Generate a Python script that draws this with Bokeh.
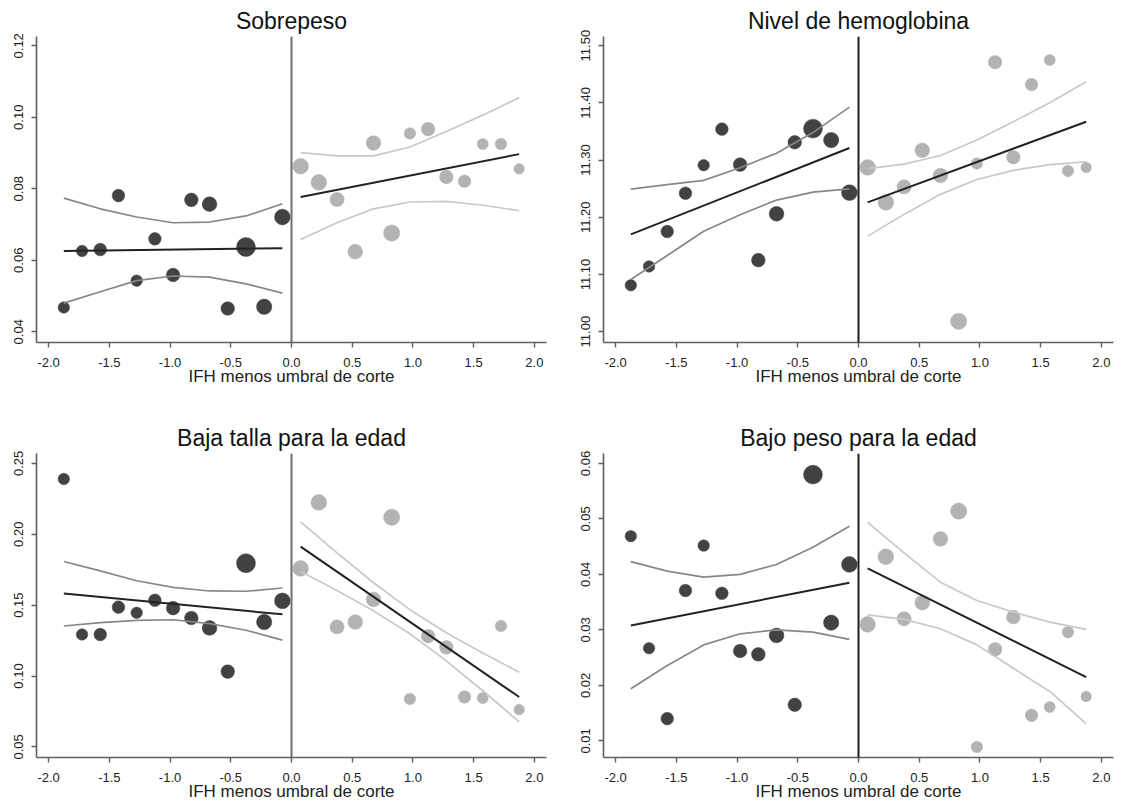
import numpy as np
from bokeh.plotting import figure
from bokeh.layouts import column, row
from bokeh.models import FixedTicker, NumeralTickFormatter, Span
from bokeh.embed import file_html
from bokeh.resources import INLINE

# ---------------- data ----------------
x_left = [-1.875, -1.725, -1.575, -1.425, -1.275, -1.125, -0.975, -0.825, -0.675, -0.525, -0.375, -0.225, -0.075]
x_right = [0.075, 0.225, 0.375, 0.525, 0.675, 0.825, 0.975, 1.125, 1.275, 1.425, 1.575, 1.725, 1.875]
w_left = [30, 30, 36, 36, 30, 36, 42, 42, 49, 42, 81, 53, 56]
w_right = [56, 56, 46, 49, 49, 60, 30, 42, 42, 36, 28, 30, 25]
ci_x_left = [-1.875, -1.575, -1.275, -0.975, -0.675, -0.375, -0.075]
ci_x_right = [0.075, 0.375, 0.675, 0.975, 1.275, 1.575, 1.875]
fit_x_left = [-1.875, -0.075]
fit_x_right = [0.075, 1.875]
x_ticks = [-2.0, -1.5, -1.0, -0.5, 0.0, 0.5, 1.0, 1.5, 2.0]
x_label = "IFH menos umbral de corte"

# Sobrepeso
sob_left = [0.0468, 0.0626, 0.0630, 0.0781, 0.0543, 0.0660, 0.0559, 0.0769, 0.0757, 0.0465, 0.0637, 0.0470, 0.0721]
sob_right = [0.0863, 0.0818, 0.0770, 0.0624, 0.0928, 0.0676, 0.0955, 0.0967, 0.0833, 0.0821, 0.0925, 0.0925, 0.0856]
sob_fit_left = [0.0626, 0.0634]
sob_fit_right = [0.0777, 0.0897]
sob_hi_left = [0.0774, 0.0744, 0.0721, 0.0705, 0.0707, 0.0724, 0.0758]
sob_lo_left = [0.0480, 0.0512, 0.0543, 0.0556, 0.0553, 0.0534, 0.0508]
sob_hi_right = [0.0901, 0.0892, 0.0892, 0.0917, 0.0960, 0.1006, 0.1055]
sob_lo_right = [0.0658, 0.0705, 0.0744, 0.0763, 0.0765, 0.0754, 0.0739]
sob_ticks = [0.04, 0.06, 0.08, 0.10, 0.12]
sob_range = (0.0370, 0.1226)

# Nivel de hemoglobina
hem_left = [11.081, 11.114, 11.175, 11.242, 11.291, 11.354, 11.292, 11.125, 11.206, 11.331, 11.355, 11.335, 11.243]
hem_right = [11.287, 11.226, 11.253, 11.317, 11.273, 11.018, 11.294, 11.471, 11.305, 11.432, 11.475, 11.281, 11.287]
hem_fit_left = [11.170, 11.321]
hem_fit_right = [11.226, 11.367]
hem_hi_left = [11.249, 11.257, 11.2645, 11.2865, 11.312, 11.348, 11.3925]
hem_lo_left = [11.091, 11.133, 11.1755, 11.2045, 11.230, 11.244, 11.2495]
hem_hi_right = [11.285, 11.293, 11.308, 11.335, 11.367, 11.400, 11.437]
hem_lo_right = [11.167, 11.205, 11.240, 11.266, 11.282, 11.292, 11.297]
hem_ticks = [11.0, 11.1, 11.2, 11.3, 11.4, 11.5]
hem_range = (10.981, 11.516)

# Baja talla para la edad
tal_left = [0.2390, 0.1293, 0.1293, 0.1486, 0.1446, 0.1535, 0.1479, 0.1409, 0.1339, 0.1031, 0.1796, 0.1381, 0.1530]
tal_right = [0.1759, 0.2225, 0.1346, 0.1381, 0.1540, 0.2120, 0.0838, 0.1281, 0.1202, 0.0852, 0.0845, 0.1353, 0.0763]
tal_fit_left = [0.1582, 0.1435]
tal_fit_right = [0.1913, 0.0852]
tal_hi_left = [0.1808, 0.1742, 0.1672, 0.1626, 0.1600, 0.1598, 0.1621]
tal_lo_left = [0.1353, 0.1376, 0.1393, 0.1397, 0.1369, 0.1323, 0.1253]
tal_hi_right = [0.2088, 0.1869, 0.1658, 0.1468, 0.1305, 0.1162, 0.1027]
tal_lo_right = [0.1738, 0.1603, 0.1460, 0.1298, 0.1107, 0.0896, 0.0677]
tal_ticks = [0.05, 0.10, 0.15, 0.20, 0.25]
tal_range = (0.0425, 0.2570)

# Bajo peso para la edad
bpe_left = [0.0469, 0.0267, 0.0140, 0.0371, 0.0452, 0.0366, 0.0262, 0.0256, 0.0290, 0.0165, 0.0580, 0.0313, 0.0418]
bpe_right = [0.0310, 0.0432, 0.0320, 0.0349, 0.0464, 0.0514, 0.0089, 0.0265, 0.0323, 0.0146, 0.0161, 0.0296, 0.0180]
bpe_fit_left = [0.0308, 0.0385]
bpe_fit_right = [0.0411, 0.0215]
bpe_hi_left = [0.0423, 0.0406, 0.0395, 0.0400, 0.0418, 0.0449, 0.0487]
bpe_lo_left = [0.0194, 0.0236, 0.0273, 0.0293, 0.0300, 0.0296, 0.0283]
bpe_hi_right = [0.0494, 0.0439, 0.0386, 0.0353, 0.0332, 0.0314, 0.0301]
bpe_lo_right = [0.0327, 0.0319, 0.0302, 0.0273, 0.0231, 0.0189, 0.0131]
bpe_ticks = [0.01, 0.02, 0.03, 0.04, 0.05, 0.06]
bpe_range = (0.0070, 0.0618)

# ---------------- styling ----------------
FONT = "Liberation Sans"
DARK_PT = "#424242"
LIGHT_PT = "#b3b3b3"
FIT = "#222222"
CI_LEFT = "#878787"
CI_RIGHT = "#c8c8c8"
AXIS = "#5f5f5f"


def marker_sizes(weights):
    return [2.1 * np.sqrt(w) for w in weights]


def make_panel(title, yl, yr, fl, fr, hil, lol, hir, lor, yticks, yrange,
               zero_color, width, height, left, right, top, bottom):
    p = figure(width=width, height=height, x_range=(-2.1, 2.1), y_range=yrange,
               output_backend="svg", toolbar_location=None,
               min_border_left=left, min_border_right=right,
               min_border_top=top, min_border_bottom=bottom)
    p.outline_line_color = None
    p.grid.visible = False
    p.background_fill_color = "white"
    p.border_fill_color = "white"

    p.title.text = title
    p.title.align = "center"
    p.title.text_font = FONT
    p.title.text_font_size = "23px"
    p.title.text_font_style = "normal"
    p.title.text_color = "#111111"
    p.title.standoff = 5

    for ax in (p.xaxis[0], p.yaxis[0]):
        ax.axis_line_color = AXIS
        ax.axis_line_width = 1.6
        ax.major_tick_line_color = AXIS
        ax.major_tick_line_width = 1.4
        ax.major_tick_out = 5
        ax.major_tick_in = 0
        ax.minor_tick_line_color = None
        ax.major_label_text_font = FONT
        ax.major_label_text_font_size = "13px"
        ax.major_label_text_color = "#222222"

    p.xaxis.ticker = FixedTicker(ticks=x_ticks)
    p.xaxis.formatter = NumeralTickFormatter(format="0.0")
    p.xaxis.major_label_standoff = 10
    p.xaxis.axis_label = x_label
    p.xaxis.axis_label_text_font = FONT
    p.xaxis.axis_label_text_font_size = "17px"
    p.xaxis.axis_label_text_font_style = "normal"
    p.xaxis.axis_label_text_color = "#222222"
    p.xaxis.axis_label_standoff = -3

    p.yaxis.ticker = FixedTicker(ticks=yticks)
    p.yaxis.formatter = NumeralTickFormatter(format="0.00")
    p.yaxis.major_label_orientation = "vertical"
    p.yaxis.major_label_standoff = 8

    # points
    p.scatter(x_left, yl, size=marker_sizes(w_left), fill_color=DARK_PT,
              line_color=DARK_PT, line_width=0.5)
    p.scatter(x_right, yr, size=marker_sizes(w_right), fill_color=LIGHT_PT,
              line_color=LIGHT_PT, line_width=0.5)
    # confidence bands
    p.line(ci_x_left, hil, line_color=CI_LEFT, line_width=1.7)
    p.line(ci_x_left, lol, line_color=CI_LEFT, line_width=1.7)
    p.line(ci_x_right, hir, line_color=CI_RIGHT, line_width=1.7)
    p.line(ci_x_right, lor, line_color=CI_RIGHT, line_width=1.7)
    # fitted lines
    p.line(fit_x_left, fl, line_color=FIT, line_width=2.0)
    p.line(fit_x_right, fr, line_color=FIT, line_width=2.0)

    p.add_layout(Span(location=0, dimension="height", line_color=zero_color,
                      line_width=2))
    return p


p1 = make_panel("Sobrepeso", sob_left, sob_right, sob_fit_left, sob_fit_right,
                sob_hi_left, sob_lo_left, sob_hi_right, sob_lo_right,
                sob_ticks, sob_range, "#6e6e6e",
                562, 420, 36, 16, 36, 78)
p2 = make_panel("Nivel de hemoglobina", hem_left, hem_right, hem_fit_left, hem_fit_right,
                hem_hi_left, hem_lo_left, hem_hi_right, hem_lo_right,
                hem_ticks, hem_range, "#1e1e1e",
                559, 420, 41, 8, 36, 78)
p3 = make_panel("Baja talla para la edad", tal_left, tal_right, tal_fit_left, tal_fit_right,
                tal_hi_left, tal_lo_left, tal_hi_right, tal_lo_right,
                tal_ticks, tal_range, "#6e6e6e",
                562, 383, 36, 16, 30, 46)
p4 = make_panel("Bajo peso para la edad", bpe_left, bpe_right, bpe_fit_left, bpe_fit_right,
                bpe_hi_left, bpe_lo_left, bpe_hi_right, bpe_lo_right,
                bpe_ticks, bpe_range, "#1e1e1e",
                559, 383, 41, 8, 30, 46)

layout = column(row(p1, p2), row(p3, p4))
open("out.html", "w").write(file_html(layout, INLINE))
